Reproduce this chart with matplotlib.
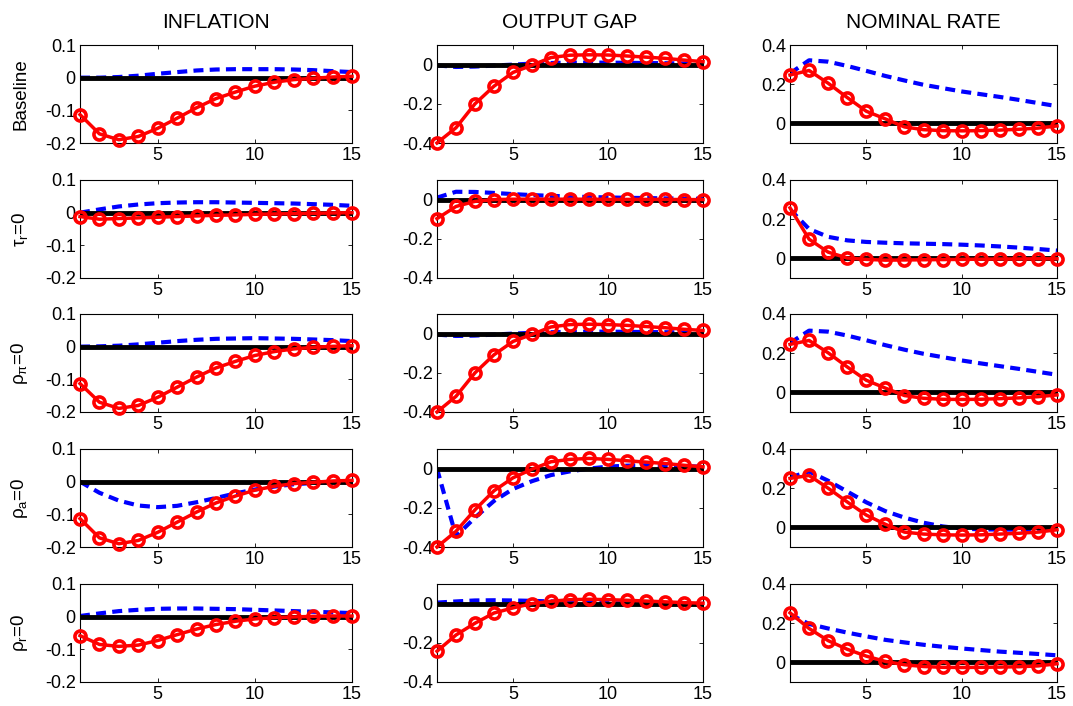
import matplotlib
matplotlib.use("Agg")
import matplotlib.pyplot as plt
import numpy as np

plt.rcParams['font.family'] = ['Liberation Sans', 'DejaVu Sans']
plt.rcParams['axes.unicode_minus'] = False
plt.rcParams['mathtext.default'] = 'regular'

# horizon
periods = list(range(1, 16))

col_titles = ['INFLATION', 'OUTPUT GAP', 'NOMINAL RATE']
row_labels = ['Baseline', r'$\tau_r$=0', r'$\rho_\pi$=0', r'$\rho_a$=0', r'$\rho_r$=0']

# ---- Baseline ----
base_infl_red = [-0.113, -0.172, -0.190, -0.180, -0.155, -0.124, -0.092, -0.064, -0.044, -0.026, -0.014, -0.006, -0.002, 0.002, 0.004]
base_infl_blue = [0.000, 0.000, 0.002, 0.006, 0.012, 0.017, 0.022, 0.025, 0.026, 0.026, 0.026, 0.025, 0.023, 0.020, 0.017]
base_gap_red = [-0.400, -0.322, -0.200, -0.110, -0.040, -0.003, 0.036, 0.048, 0.050, 0.049, 0.044, 0.038, 0.032, 0.023, 0.015]
base_gap_blue = [-0.004, -0.012, -0.010, -0.005, 0.000, 0.005, 0.008, 0.010, 0.010, 0.010, 0.009, 0.008, 0.007, 0.006, 0.005]
base_rate_red = [0.247, 0.270, 0.205, 0.132, 0.062, 0.023, -0.018, -0.032, -0.037, -0.038, -0.037, -0.034, -0.030, -0.024, -0.013]
base_rate_blue = [0.255, 0.322, 0.315, 0.293, 0.268, 0.242, 0.219, 0.197, 0.180, 0.163, 0.149, 0.135, 0.120, 0.104, 0.088]

# ---- tau_r = 0 ----
tau_infl_red = [-0.012, -0.020, -0.018, -0.016, -0.014, -0.012, -0.010, -0.008, -0.007, -0.005, -0.004, -0.003, -0.002, -0.001, 0.000]
tau_infl_blue = [0.000, 0.010, 0.019, 0.025, 0.029, 0.031, 0.032, 0.032, 0.031, 0.030, 0.029, 0.028, 0.026, 0.024, 0.021]
tau_gap_red = [-0.097, -0.035, -0.009, 0.000, 0.002, 0.002, 0.002, 0.002, 0.002, 0.001, 0.001, 0.001, 0.001, 0.000, 0.000]
tau_gap_blue = [0.010, 0.040, 0.039, 0.034, 0.028, 0.023, 0.019, 0.016, 0.013, 0.011, 0.009, 0.008, 0.006, 0.005, 0.004]
tau_rate_red = [0.258, 0.098, 0.032, 0.002, -0.005, -0.009, -0.008, -0.007, -0.006, -0.005, -0.004, -0.003, -0.003, -0.002, -0.002]
tau_rate_blue = [0.250, 0.150, 0.110, 0.092, 0.084, 0.080, 0.077, 0.075, 0.073, 0.070, 0.066, 0.061, 0.055, 0.048, 0.040]

# ---- rho_pi = 0 ----
rpi_infl_red = [-0.113, -0.170, -0.189, -0.180, -0.155, -0.124, -0.093, -0.065, -0.045, -0.027, -0.015, -0.007, -0.002, 0.001, 0.003]
rpi_infl_blue = [0.000, 0.001, 0.003, 0.007, 0.012, 0.017, 0.021, 0.024, 0.025, 0.026, 0.025, 0.024, 0.022, 0.020, 0.017]
rpi_gap_red = [-0.400, -0.320, -0.200, -0.108, -0.040, -0.004, 0.034, 0.046, 0.048, 0.046, 0.042, 0.036, 0.030, 0.022, 0.016]
rpi_gap_blue = [-0.005, -0.012, -0.010, -0.005, 0.000, 0.004, 0.007, 0.009, 0.010, 0.010, 0.009, 0.008, 0.007, 0.006, 0.005]
rpi_rate_red = [0.245, 0.265, 0.202, 0.130, 0.062, 0.022, -0.016, -0.030, -0.035, -0.036, -0.035, -0.032, -0.028, -0.022, -0.013]
rpi_rate_blue = [0.252, 0.315, 0.310, 0.290, 0.266, 0.241, 0.218, 0.197, 0.180, 0.163, 0.148, 0.134, 0.120, 0.105, 0.090]

# ---- rho_a = 0 ----
ra_infl_red = [-0.113, -0.172, -0.190, -0.180, -0.155, -0.124, -0.093, -0.065, -0.044, -0.026, -0.014, -0.006, -0.002, 0.002, 0.004]
ra_infl_blue = [0.000, -0.034, -0.058, -0.073, -0.078, -0.074, -0.063, -0.050, -0.036, -0.024, -0.015, -0.008, -0.004, -0.001, 0.001]
ra_gap_red = [-0.400, -0.320, -0.210, -0.113, -0.047, -0.003, 0.035, 0.047, 0.052, 0.047, 0.040, 0.033, 0.026, 0.017, 0.009]
ra_gap_blue = [0.000, -0.345, -0.250, -0.165, -0.104, -0.064, -0.033, -0.014, 0.000, 0.010, 0.015, 0.017, 0.015, 0.012, 0.010]
ra_rate_red = [0.250, 0.265, 0.200, 0.130, 0.063, 0.016, -0.024, -0.034, -0.038, -0.039, -0.038, -0.034, -0.030, -0.024, -0.012]
ra_rate_blue = [0.255, 0.285, 0.238, 0.183, 0.128, 0.083, 0.050, 0.024, 0.005, -0.006, -0.010, -0.011, -0.011, -0.010, -0.008]

# ---- rho_r = 0 ----
rr_infl_red = [-0.058, -0.085, -0.091, -0.087, -0.073, -0.055, -0.038, -0.024, -0.014, -0.007, -0.003, -0.001, 0.001, 0.002, 0.002]
rr_infl_blue = [0.002, 0.010, 0.017, 0.021, 0.024, 0.025, 0.025, 0.024, 0.023, 0.021, 0.019, 0.017, 0.015, 0.013, 0.011]
rr_gap_red = [-0.243, -0.160, -0.100, -0.048, -0.022, 0.000, 0.012, 0.020, 0.022, 0.020, 0.017, 0.013, 0.009, 0.005, 0.002]
rr_gap_blue = [0.005, 0.011, 0.016, 0.017, 0.016, 0.014, 0.011, 0.008, 0.005, 0.003, 0.001, 0.000, -0.001, -0.001, -0.002]
rr_rate_red = [0.253, 0.173, 0.111, 0.067, 0.032, 0.005, -0.012, -0.021, -0.025, -0.026, -0.025, -0.024, -0.022, -0.018, -0.007]
rr_rate_blue = [0.245, 0.196, 0.173, 0.152, 0.133, 0.115, 0.102, 0.090, 0.080, 0.071, 0.063, 0.055, 0.049, 0.043, 0.036]

red_series = [
    [base_infl_red, base_gap_red, base_rate_red],
    [tau_infl_red, tau_gap_red, tau_rate_red],
    [rpi_infl_red, rpi_gap_red, rpi_rate_red],
    [ra_infl_red, ra_gap_red, ra_rate_red],
    [rr_infl_red, rr_gap_red, rr_rate_red],
]
blue_series = [
    [base_infl_blue, base_gap_blue, base_rate_blue],
    [tau_infl_blue, tau_gap_blue, tau_rate_blue],
    [rpi_infl_blue, rpi_gap_blue, rpi_rate_blue],
    [ra_infl_blue, ra_gap_blue, ra_rate_blue],
    [rr_infl_blue, rr_gap_blue, rr_rate_blue],
]

# per-column axis settings
col_ylims = [(-0.2, 0.1), (-0.4, 0.1), (-0.1, 0.4)]
col_yticks = [[-0.2, -0.1, 0, 0.1], [-0.4, -0.2, 0], [0, 0.2, 0.4]]
col_yticklabels = [['-0.2', '-0.1', '0', '0.1'], ['-0.4', '-0.2', '0'], ['0', '0.2', '0.4']]
xticks = [5, 10, 15]

W, H = 1073, 706
fig = plt.figure(figsize=(W / 100, H / 100), dpi=100)

col_left = [80, 437, 790]
col_width = [272, 266, 267]
row_top = [45, 180, 314, 449, 584]
ax_h = 98

for r in range(5):
    for c in range(3):
        rect = [col_left[c] / W, 1 - (row_top[r] + ax_h) / H, col_width[c] / W, ax_h / H]
        ax = fig.add_axes(rect)
        ax.plot(periods, blue_series[r][c], color='blue', linestyle=(0, (2.4, 1.5)),
                linewidth=3, zorder=2)
        ax.plot([periods[0], periods[-1]], [0, 0], color='black', linewidth=3.5, zorder=3)
        ax.plot(periods, red_series[r][c], color='red', linewidth=2.5, marker='o',
                markersize=8, markerfacecolor='none', markeredgewidth=2.6, zorder=4,
                clip_on=False)
        ax.set_xlim(1, 15)
        ax.set_ylim(*col_ylims[c])
        ax.set_xticks(xticks)
        ax.set_xticklabels([str(t) for t in xticks])
        ax.set_yticks(col_yticks[c])
        ax.set_yticklabels(col_yticklabels[c])
        ax.tick_params(direction='in', length=3, width=0.6, top=True, right=True,
                       labelsize=13, pad=3)
        for sp in ax.spines.values():
            sp.set_linewidth(0.8)
        if r == 0:
            ax.set_title(col_titles[c], fontsize=15, pad=12)
        if c == 0:
            ax.set_ylabel(row_labels[r], fontsize=13.5)
            ax.yaxis.set_label_coords(-0.185, 0.5)

plt.savefig('out.png', dpi=100)
